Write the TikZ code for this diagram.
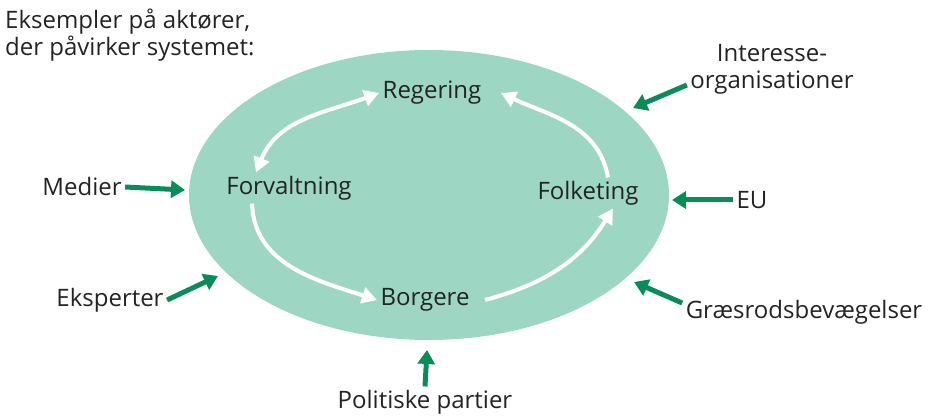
\documentclass[tikz,border=0pt]{standalone}
\usepackage{fontspec}
\setmainfont{Open Sans}
\usetikzlibrary{shapes.geometric,arrows.meta}

\begin{document}
\begin{tikzpicture}[x=1pt,y=1pt]
\def\W{939}
\def\H{418}
\definecolor{system color}{RGB}{158,214,196}
\definecolor{actor color}{RGB}{10,140,90}
\definecolor{label color}{RGB}{35,35,35}
\tikzset{
  every node/.style={font=\fontsize{24}{27}\selectfont,text=label color},
  system/.style={ellipse,fill=system color,minimum width=480pt,minimum height=290pt,inner sep=0pt},
  actor path/.style={-{Triangle[length=14pt,width=17pt]},actor color,line width=5pt},
  cycle path/.style={-{Triangle[length=15pt,width=16pt]},white,line width=4pt},
  both cycle path/.style={{Triangle[length=15pt,width=16pt]}-{Triangle[length=15pt,width=16pt]},white,line width=4pt}
}
\useasboundingbox (0,0) rectangle (\W,\H);

%TITLE
\node[anchor=north west,align=left,inner sep=0pt] (TITLE) at (5,409) {Eksempler på aktører,\\der påvirker systemet:};

%SYSTEM
\node[system] (SYS) at (429,223) {};
\node (REG) at (432,325) {Regering};
\node (FORV) at (289,230) {Forvaltning};
\node (FOLK) at (588,225) {Folketing};
\node (BORG) at (425,118) {Borgere};

%ACTORS
\node (MEDIER) at (82,231) {Medier};
\node[align=center] (ORG) at (772,349) {Interesse-\\organisationer};
\node (EU) at (752,218) {EU};
\node (GRAES) at (804,106) {Græsrodsbevægelser};
\node (PARTI) at (425,16) {Politiske partier};
\node (EKSP) at (110,118) {Eksperter};

\coordinate (MEDIER tip) at (185,228);
\coordinate (ORG tip) at (633,310);
\coordinate (EU tip) at (672,218);
\coordinate (GRAES tip) at (634,136);
\coordinate (PARTI tip) at (427,68);
\coordinate (EKSP tip) at (218,142);

%PATHS
%%actors
\draw[actor path] (MEDIER.east) -- (MEDIER tip);
\draw[actor path] ([yshift=-16pt]ORG.west) -- (ORG tip);
\draw[actor path] (EU.west) -- (EU tip);
\draw[actor path] ([yshift=9pt]GRAES.west) -- (GRAES tip);
\draw[actor path] (PARTI.north) -- (PARTI tip);
\draw[actor path] (EKSP.east) -- (EKSP tip);
%%cycle
\draw[both cycle path] ([xshift=-33pt]FORV.north) to[out=68,in=200] (REG.west);
\draw[cycle path] ([xshift=20pt]FOLK.north) to[out=100,in=-25] ([xshift=16pt]REG.east);
\draw[cycle path] ([xshift=-37pt]FORV.south) to[out=-88,in=162] (BORG.west);
\draw[cycle path] ([xshift=12pt]BORG.east) to[out=15,in=238] ([xshift=25pt]FOLK.south);

\end{tikzpicture}
\end{document}
